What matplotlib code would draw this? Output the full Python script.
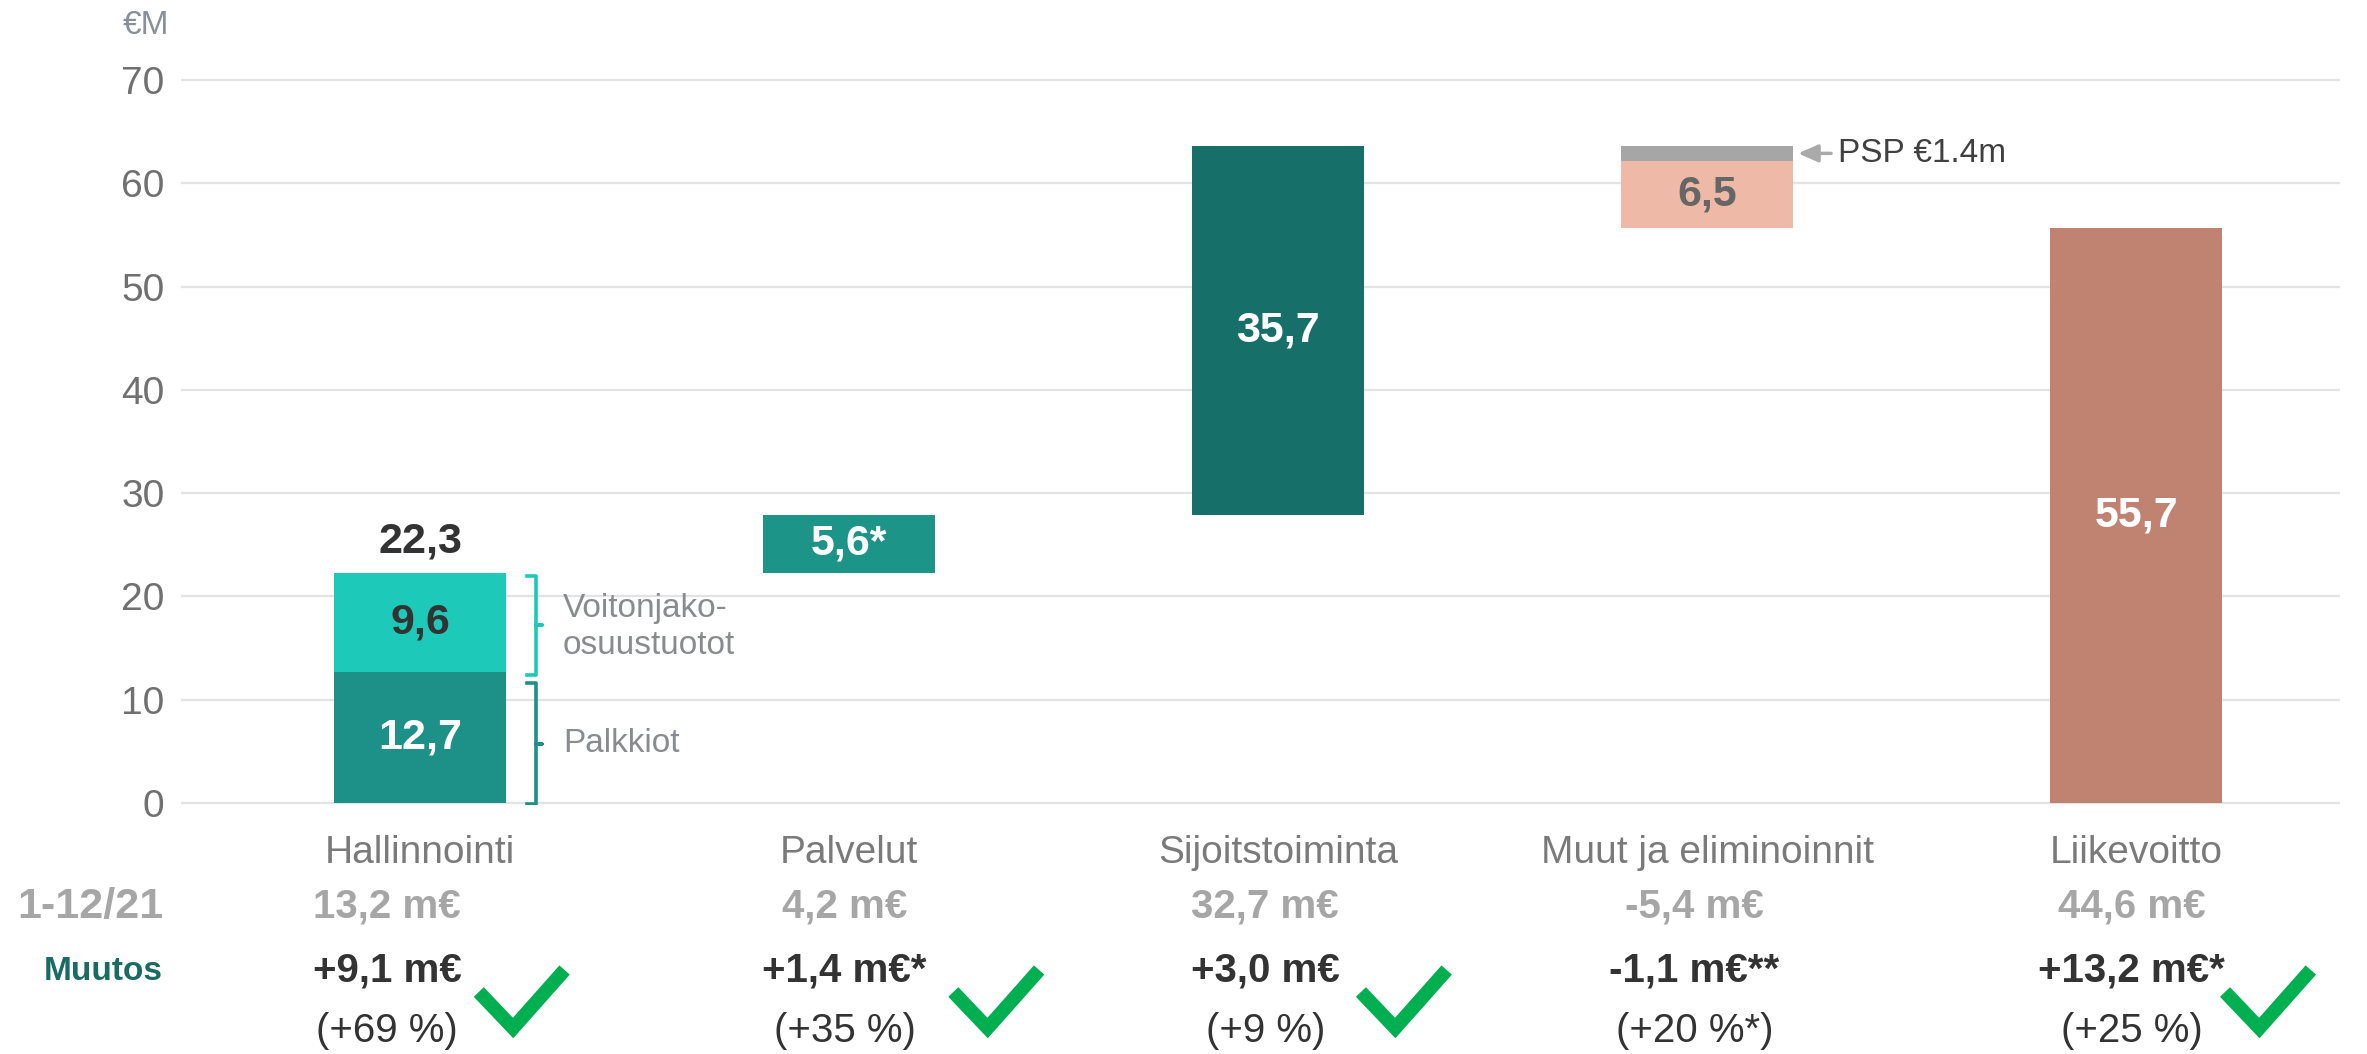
import matplotlib
matplotlib.use("Agg")
import matplotlib.pyplot as plt
from matplotlib.transforms import blended_transform_factory

plt.rcParams['font.family'] = ['Liberation Sans', 'DejaVu Sans']

# data (m€)
categories = ['Hallinnointi', 'Palvelut', 'Sijoitstoiminta', 'Muut ja eliminoinnit', 'Liikevoitto']
palkkiot = 12.7
voitonjako = 9.6
palvelut = 5.6
sijoitus = 35.7
psp = 1.4
muut = 6.5
liikevoitto = 55.7

prev_values = ['13,2 m€', '4,2 m€', '32,7 m€', '-5,4 m€', '44,6 m€']
change_abs = ['+9,1 m€', '+1,4 m€*', '+3,0 m€', '-1,1 m€**', '+13,2 m€*']
change_pct = ['(+69 %)', '(+35 %)', '(+9 %)', '(+20 %*)', '(+25 %)']
improved = [True, True, True, False, True]

# colours
c_palk = '#1d9187'
c_voit = '#1dc9b8'
c_palv = '#1d9488'
c_sijo = '#166f69'
c_psp = '#a6a6a6'
c_muut = '#efb9a8'
c_liik = '#c08372'
c_green = '#00b050'


def fmt(v):
    return '{:.1f}'.format(v).replace('.', ',')


W, H = 2367, 1054
fig = plt.figure(figsize=(W / 100, H / 100), dpi=100)
ax = fig.add_axes([181 / W, 1 - 805 / H, (2340 - 181) / W, (805 - 78) / H])
ax.set_ylim(-0.2, 70.2)
ax.set_xlim(-0.557, 4.475)

bw = 0.4
total_h = palkkiot + voitonjako
top_palv = total_h + palvelut
top_sijo = top_palv + sijoitus

# bars
ax.bar(0, palkkiot, width=bw, color=c_palk, zorder=3)
ax.bar(0, voitonjako, bottom=palkkiot, width=bw, color=c_voit, zorder=3)
ax.bar(1, palvelut, bottom=total_h, width=bw, color=c_palv, zorder=3)
ax.bar(2, sijoitus, bottom=top_palv, width=bw, color=c_sijo, zorder=3)
ax.bar(3, psp, bottom=top_sijo - psp, width=bw, color=c_psp, zorder=3)
ax.bar(3, muut, bottom=top_sijo - psp - muut, width=bw, color=c_muut, zorder=3)
ax.bar(4, liikevoitto, width=bw, color=c_liik, zorder=3)

# bar labels
lbl = dict(ha='center', va='center', fontsize=31, fontweight='bold', zorder=4)
ax.text(0, palkkiot / 2, fmt(palkkiot), color='white', **lbl)
ax.text(0, palkkiot + voitonjako / 2, fmt(voitonjako), color='#333333', **lbl)
ax.annotate(fmt(total_h), (0, total_h), xytext=(0, 8), textcoords='offset points',
            ha='center', va='bottom', fontsize=31, fontweight='bold', color='#333333')
ax.text(1, total_h + palvelut / 2, fmt(palvelut) + '*', color='white', **lbl)
ax.text(2, top_palv + sijoitus / 2, fmt(sijoitus), color='white', **lbl)
ax.text(3, top_sijo - psp - muut / 2, fmt(muut), color='#666666', **lbl)
ax.text(4, liikevoitto / 2, fmt(liikevoitto), color='white', **lbl)

# brackets next to first bar
bx0, bx1, bx2 = 0.249, 0.270, 0.284
up_lo, up_hi = palkkiot - 0.3, total_h - 0.3
ax.plot([bx0, bx1, bx1, bx2, bx1, bx1, bx0],
        [up_hi, up_hi, (up_lo + up_hi) / 2, (up_lo + up_hi) / 2, (up_lo + up_hi) / 2, up_lo, up_lo],
        color=c_voit, lw=2.6, solid_joinstyle='round', zorder=3)
lo_lo, lo_hi = -0.1, palkkiot - 1.1
ax.plot([bx0, bx1, bx1, bx2, bx1, bx1, bx0],
        [lo_hi, lo_hi, (lo_lo + lo_hi) / 2, (lo_lo + lo_hi) / 2, (lo_lo + lo_hi) / 2, lo_lo, lo_lo],
        color=c_palk, lw=2.6, solid_joinstyle='round', zorder=3)
ax.text(0.333, (up_lo + up_hi) / 2 - 0.2, 'Voitonjako-\nosuustuotot', ha='left', va='center',
        fontsize=24, color='#888c90', linespacing=1.25)
ax.text(0.333, (lo_lo + lo_hi) / 2, 'Palkkiot', ha='left', va='center',
        fontsize=24, color='#888c90')

# PSP annotation
ax.annotate('PSP €1.4m', xy=(3 + bw / 2 + 0.012, top_sijo - psp / 2),
            xytext=(3.305, top_sijo - psp / 2), ha='left', va='center',
            fontsize=24, color='#404040',
            arrowprops=dict(arrowstyle='-|>,head_length=0.5,head_width=0.22',
                            color='#aaaaaa', lw=2.5, shrinkA=3, shrinkB=0))

# axes styling
ax.set_yticks(range(0, 71, 10))
ax.set_xticks([])
ax.yaxis.grid(True, color='#e3e3e3', lw=1.6)
ax.set_axisbelow(True)
for s in ax.spines.values():
    s.set_visible(False)
ax.tick_params(axis='y', length=0, pad=12, labelsize=28, labelcolor='#707070')
fig.text(169 / W, 1 - 25 / H, '€M', ha='right', va='center', fontsize=24, color='#8a9099')

# table below the chart
trans = blended_transform_factory(ax.transData, fig.transFigure)
col_shift = [-0.077, -0.01, -0.03, -0.03, -0.01]
y_cat, y_prev, y_abs, y_pct = 1 - 853 / H, 1 - 907 / H, 1 - 971 / H, 1 - 1031 / H

fig.text(163 / W, y_prev, '1-12/21', ha='right', va='center', fontsize=31,
         fontweight='bold', color='#a6a6a6')
fig.text(163 / W, y_abs, 'Muutos', ha='right', va='center', fontsize=24,
         fontweight='bold', color='#1a6b62')

for i, cat in enumerate(categories):
    ax.text(i, y_cat, cat, transform=trans, ha='center', va='center', fontsize=28,
            color='#7a7a7a', clip_on=False)
    xs = i + col_shift[i]
    ax.text(xs, y_prev, prev_values[i], transform=trans, ha='center', va='center',
            fontsize=29, fontweight='bold', color='#a6a6a6', clip_on=False)
    ax.text(xs, y_abs, change_abs[i], transform=trans, ha='center', va='center',
            fontsize=29, fontweight='bold', color='#333333', clip_on=False)
    ax.text(xs, y_pct, change_pct[i], transform=trans, ha='center', va='center',
            fontsize=29, color='#333333', clip_on=False)

# check marks
check_x = [0.137, 0.243, 0.193, None, 0.207]
for i, ok in enumerate(improved):
    if not ok:
        continue
    x0 = i + check_x[i]
    ax.plot([x0, x0 + 0.08, x0 + 0.2],
            [1 - 992 / H, 1 - 1028 / H, 1 - 970 / H],
            transform=trans, color=c_green, lw=10, solid_joinstyle='miter',
            solid_capstyle='butt', clip_on=False)

fig.savefig('out.png', dpi=100)
